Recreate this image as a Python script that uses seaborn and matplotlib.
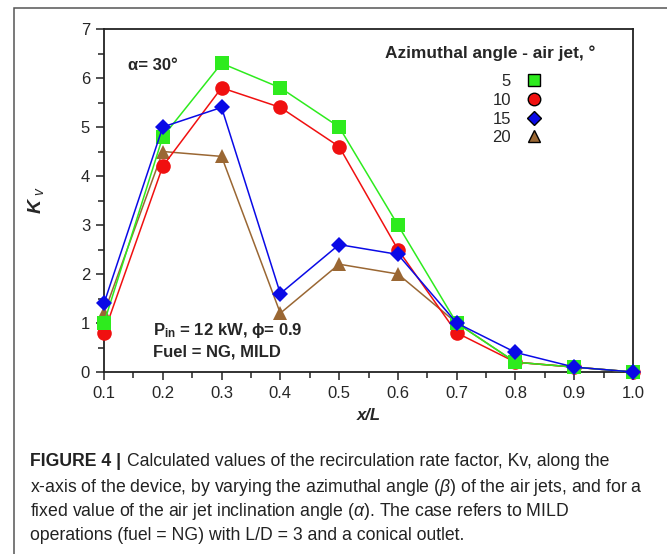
import matplotlib
matplotlib.use("Agg")
import matplotlib.pyplot as plt
import seaborn as sns
import numpy as np
from matplotlib.lines import Line2D
from matplotlib.patches import Rectangle
from matplotlib.ticker import MultipleLocator

# ---------------- data ----------------
x_over_L = [0.1, 0.2, 0.3, 0.4, 0.5, 0.6, 0.7, 0.8, 0.9, 1.0]
kv_5 = [1.0, 4.8, 6.3, 5.8, 5.0, 3.0, 1.0, 0.2, 0.1, 0.0]
kv_10 = [0.8, 4.2, 5.8, 5.4, 4.6, 2.5, 0.8, 0.2, 0.1, 0.0]
kv_15 = [1.4, 5.0, 5.4, 1.6, 2.6, 2.4, 1.0, 0.4, 0.1, 0.0]
kv_20 = [1.2, 4.5, 4.4, 1.2, 2.2, 2.0, 1.0, 0.2, 0.1, 0.0]
legend_labels = ["5", "10", "15", "20"]
x_ticks = [0.1, 0.2, 0.3, 0.4, 0.5, 0.6, 0.7, 0.8, 0.9, 1.0]
y_ticks = [0, 1, 2, 3, 4, 5, 6, 7]

sns.set_style("ticks")
plt.rcParams["font.family"] = ["Liberation Sans", "DejaVu Sans"]
plt.rcParams["mathtext.fontset"] = "custom"
plt.rcParams["mathtext.rm"] = "Liberation Sans"
plt.rcParams["mathtext.it"] = "Liberation Sans:italic"
plt.rcParams["mathtext.bf"] = "Liberation Sans:bold"
plt.rcParams["mathtext.bfit"] = "Liberation Sans:bold:italic"

W, H = 667, 554
fig = plt.figure(figsize=(W / 100, H / 100), dpi=100)
fig.patch.set_facecolor("white")

# outer frame
fig.add_artist(Rectangle((14 / W, -0.05), 1.2, 1 - 8 / H + 0.05, transform=fig.transFigure,
                         fill=False, edgecolor="#555555", linewidth=1.1))

left, right, top, bottom = 104, 633, 29, 372
ax = fig.add_axes([left / W, 1 - bottom / H, (right - left) / W, (bottom - top) / H])
ax.set_facecolor("white")

colors = {"5": "#2EEB1E", "10": "#F01010", "15": "#0A0AE6", "20": "#9A6733"}
markers = {"5": "s", "10": "o", "15": "D", "20": "^"}
msize = {"5": 9.5, "10": 10.5, "15": 8.5, "20": 10}
series = {"5": kv_5, "10": kv_10, "15": kv_15, "20": kv_20}

for key in ["20", "10", "5", "15"]:
    sns.lineplot(x=x_over_L, y=series[key], ax=ax, color=colors[key], marker=markers[key],
                 markersize=msize[key], markeredgewidth=0, linewidth=1.1,
                 legend=False, clip_on=False, zorder=3)

ax.set_xlim(0.1, 1.0)
ax.set_ylim(0, 7)
ax.set_xticks(x_ticks)
ax.set_xticklabels([f"{t:.1f}" for t in x_ticks])
ax.set_yticks(y_ticks)
ax.xaxis.set_minor_locator(MultipleLocator(0.05))
ax.yaxis.set_minor_locator(MultipleLocator(0.5))
ax.tick_params(which="major", direction="out", length=6, width=1.1, labelsize=12,
               color="#222222", pad=4)
ax.tick_params(which="minor", direction="out", length=4, width=1.1, color="#222222")
for s in ax.spines.values():
    s.set_visible(True)
    s.set_linewidth(1.3)
    s.set_color("#222222")

ax.set_xlabel("x/L", fontsize=12, fontweight="bold", fontstyle="italic", labelpad=5)
ax.set_ylabel(r"$\mathbfit{K}_{\ \mathit{v}}$", fontsize=14, labelpad=25)

ax.text(0.045, 0.893, "α= 30°", transform=ax.transAxes, fontsize=12, fontweight="bold",
        va="center", ha="left")
ax.text(0.093, 0.122, r"$\mathbf{P_{in}}$ = 12 kW, ϕ= 0.9", transform=ax.transAxes,
        fontsize=12, fontweight="bold", va="center", ha="left")
ax.text(0.093, 0.058, "Fuel = NG, MILD", transform=ax.transAxes,
        fontsize=12, fontweight="bold", va="center", ha="left")

# legend
ax.text(385 / W, 1 - 53 / H, "Azimuthal angle - air jet, °", transform=fig.transFigure,
        fontsize=12.4, fontweight="bold", va="center", ha="left")
handles = [Line2D([], [], linestyle="none", marker=markers[k], color=colors[k],
                  markeredgecolor="black", markeredgewidth=1.0,
                  markersize={"5": 8.5, "10": 9, "15": 7.5, "20": 8.5}[k])
           for k in legend_labels]
ax.legend(handles, legend_labels, markerfirst=False, frameon=False, fontsize=12,
          loc="upper right", bbox_to_anchor=(551 / W, 1 - 66 / H),
          bbox_transform=fig.transFigure, labelspacing=0.22, handlelength=1.0,
          handletextpad=0.9, borderpad=0)

# caption
fs = 12.7
cx = 30 / W
lines_y = [462, 487, 511, 535]
t0 = fig.text(cx, 1 - lines_y[0] / H, "FIGURE 4 |", fontsize=fs, fontweight="bold",
              va="center", ha="left", color="#222222")
fig.canvas.draw()
bb = t0.get_window_extent()
fig.text((bb.x1 + 6) / W, 1 - lines_y[0] / H,
         "Calculated values of the recirculation rate factor, Kv, along the",
         fontsize=fs, va="center", ha="left", color="#222222")
fig.text(cx, 1 - lines_y[1] / H,
         r"x-axis of the device, by varying the azimuthal angle ($\beta$) of the air jets, and for a",
         fontsize=fs, va="center", ha="left", color="#222222")
fig.text(cx, 1 - lines_y[2] / H,
         r"fixed value of the air jet inclination angle ($\alpha$). The case refers to MILD",
         fontsize=fs, va="center", ha="left", color="#222222")
fig.text(cx, 1 - lines_y[3] / H,
         "operations (fuel = NG) with L/D = 3 and a conical outlet.",
         fontsize=fs, va="center", ha="left", color="#222222")

fig.savefig("out.png", dpi=100)
